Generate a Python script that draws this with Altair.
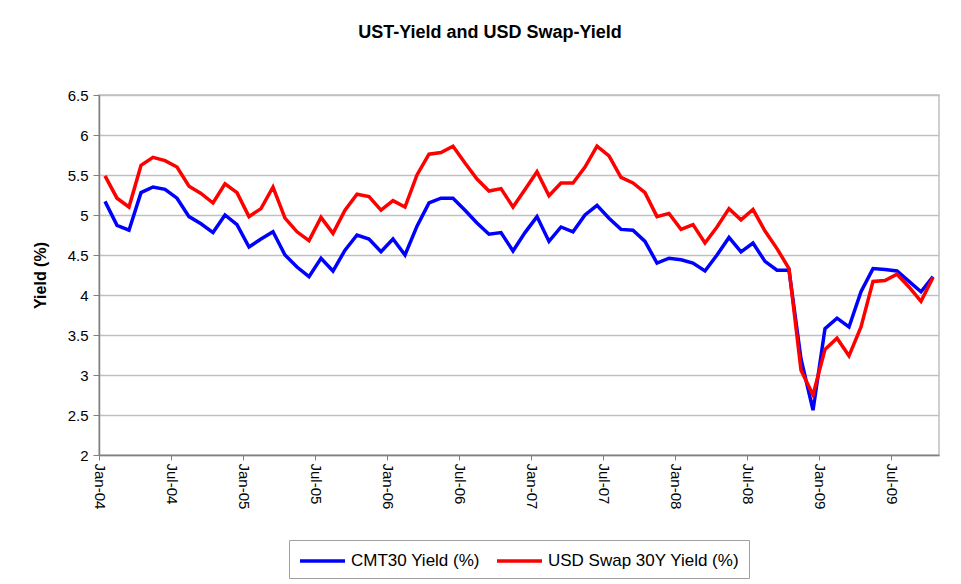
import altair as alt
import pandas as pd

months = pd.date_range("2004-01-01", periods=70, freq="MS").strftime("%b-%y").tolist()

cmt30 = [5.17, 4.87, 4.81, 5.28, 5.35, 5.32, 5.21, 4.98, 4.89, 4.78,
         5.00, 4.88, 4.60, 4.70, 4.79, 4.50, 4.35, 4.23, 4.46, 4.30,
         4.56, 4.75, 4.70, 4.54, 4.70, 4.50, 4.86, 5.15, 5.21, 5.21,
         5.06, 4.90, 4.76, 4.78, 4.55, 4.78, 4.98, 4.67, 4.85, 4.79,
         5.00, 5.12, 4.96, 4.82, 4.81, 4.67, 4.40, 4.46, 4.44, 4.40,
         4.30, 4.50, 4.72, 4.54, 4.65, 4.42, 4.31, 4.31, 3.20, 2.56,
         3.58, 3.71, 3.60, 4.04, 4.33, 4.32, 4.30, 4.17, 4.04, 4.23]

swap30 = [5.49, 5.21, 5.10, 5.62, 5.72, 5.68, 5.60, 5.36, 5.27, 5.15,
          5.39, 5.28, 4.98, 5.08, 5.35, 4.96, 4.79, 4.68, 4.97, 4.77,
          5.06, 5.26, 5.23, 5.06, 5.18, 5.10, 5.50, 5.76, 5.78, 5.86,
          5.65, 5.45, 5.30, 5.33, 5.10, 5.32, 5.54, 5.24, 5.40, 5.40,
          5.60, 5.86, 5.74, 5.47, 5.40, 5.28, 4.98, 5.02, 4.82, 4.88,
          4.65, 4.85, 5.08, 4.94, 5.07, 4.80, 4.58, 4.33, 3.06, 2.75,
          3.32, 3.46, 3.24, 3.60, 4.17, 4.18, 4.26, 4.10, 3.92, 4.22]

series_names = ["CMT30 Yield (%)", "USD Swap 30Y Yield (%)"]
series_colors = ["#0000ff", "#ff0000"]
tick_labels = ["Jan-04", "Jul-04", "Jan-05", "Jul-05", "Jan-06", "Jul-06",
               "Jan-07", "Jul-07", "Jan-08", "Jul-08", "Jan-09", "Jul-09"]
y_ticks = [2, 2.5, 3, 3.5, 4, 4.5, 5, 5.5, 6, 6.5]

rows = []
for i, m in enumerate(months):
    rows.append({"idx": i + 0.5, "month": m, "series": series_names[0], "value": cmt30[i]})
    rows.append({"idx": i + 0.5, "month": m, "series": series_names[1], "value": swap30[i]})
df = pd.DataFrame(rows)

tick_vals = [6 * k for k in range(len(tick_labels))]
label_expr = "[" + ",".join("'%s'" % t for t in tick_labels) + "][round(datum.value/6)]"

chart = alt.Chart(df).mark_line(strokeWidth=3.5).encode(
    x=alt.X("idx:Q",
            scale=alt.Scale(domain=[0, len(months)], nice=False, zero=False),
            axis=alt.Axis(values=tick_vals, labelExpr=label_expr, labelAngle=90,
                          labelAlign="left", labelBaseline="middle",
                          grid=False, title=None, tickSize=5, labelPadding=3,
                          domainColor="#808080", tickColor="#808080",
                          domainWidth=1.5, labelFontSize=15, labelColor="#000000")),
    y=alt.Y("value:Q",
            scale=alt.Scale(domain=[2, 6.5], nice=False, zero=False),
            axis=alt.Axis(values=y_ticks, format="~g", title="Yield (%)",
                          titleX=-59, titleY=180, titleAlign="center",
                          titleBaseline="middle", titleAngle=-90,
                          titleFontSize=16, titleFontWeight="bold",
                          tickSize=6, labelPadding=5, labelFontSize=15,
                          labelColor="#000000",
                          domainColor="#808080", tickColor="#808080",
                          domainWidth=1.5, gridColor="#c0c0c0", gridWidth=1.5)),
    color=alt.Color("series:N",
                    scale=alt.Scale(domain=series_names, range=series_colors),
                    legend=alt.Legend(title=None, orient="none", legendX=190, legendY=445,
                                      direction="horizontal", symbolType="M-1,0H3.5",
                                      symbolSize=400, symbolStrokeWidth=3.5,
                                      labelFontSize=17, labelLimit=300, labelOffset=29,
                                      columnPadding=10, padding=9,
                                      strokeColor="#a0a0a0", fillColor="#ffffff")),
    detail="series:N",
).properties(
    width=840,
    height=360,
    title=alt.Title("UST-Yield and USD Swap-Yield", fontSize=18, fontWeight="bold",
                    offset=46, dx=-29, color="#000000"),
    autosize=alt.AutoSizeParams(type="none"),
    padding={"left": 91, "top": 87, "right": 12, "bottom": 127},
).configure(
    font="Liberation Sans",
).configure_view(
    stroke="#c0c0c0", strokeWidth=1.5,
)

chart.save("out.html", embed_options={"renderer": "svg", "actions": False})
